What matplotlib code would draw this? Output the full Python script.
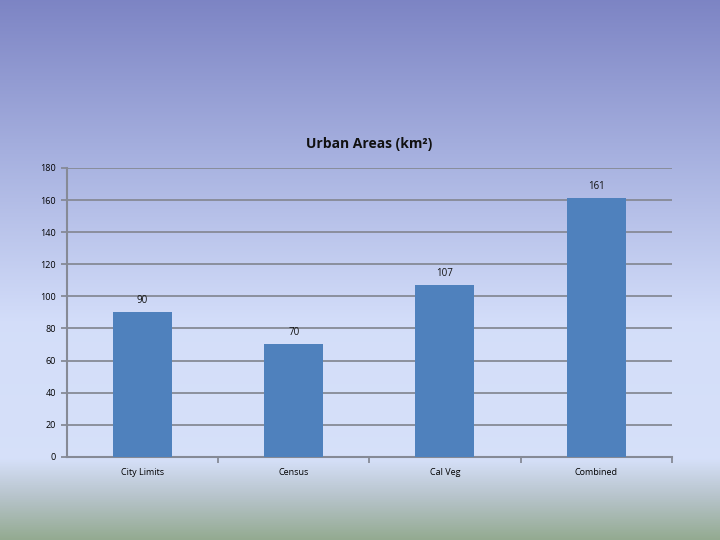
import matplotlib
matplotlib.use("Agg")
import matplotlib.pyplot as plt
import numpy as np
from matplotlib.colors import LinearSegmentedColormap

categories = ["City Limits", "Census", "Cal Veg", "Combined"]
areas = [90, 70, 107, 161]
y_ticks = [0, 20, 40, 60, 80, 100, 120, 140, 160, 180]

plt.rcParams['font.family'] = ['Open Sans', 'DejaVu Sans']

fig = plt.figure(figsize=(7.2, 5.4), dpi=100)

# slide background gradient (top -> bottom)
bg = fig.add_axes([0, 0, 1, 1], zorder=-10)
stops = [(0.0, (0.49, 0.52, 0.77)),
         (0.30, (0.66, 0.70, 0.88)),
         (0.60, (0.83, 0.87, 0.98)),
         (0.85, (0.84, 0.88, 0.98)),
         (0.92, (0.72, 0.77, 0.80)),
         (1.0, (0.58, 0.67, 0.57))]
cmap = LinearSegmentedColormap.from_list("slide", stops)
grad = np.linspace(0, 1, 256).reshape(-1, 1)
bg.imshow(grad, aspect="auto", cmap=cmap, extent=[0, 1, 0, 1], origin="upper")
bg.axis("off")

ax = fig.add_axes([0.093, 0.154, 0.840, 0.535])
ax.set_facecolor("none")
x = np.arange(len(categories))
bars = ax.bar(x, areas, width=0.39, color="#4f81bd", zorder=3)

for b, v in zip(bars, areas):
    ax.text(b.get_x() + b.get_width() / 2, v + 4, str(v), ha="center",
            va="bottom", fontsize=7, color="#111111")

ax.set_xlim(-0.5, len(categories) - 0.5)
ax.set_ylim(0, 180)
ax.set_yticks(y_ticks)
ax.set_yticklabels([str(t) for t in y_ticks], fontsize=6.5)
ax.set_xticks(x)
ax.set_xticklabels(categories, fontsize=6.5)
ax.tick_params(axis="x", length=0, pad=8)
ax.tick_params(axis="y", length=4, width=1.3, color="#868a96", pad=4)
ax.set_xticks(np.arange(len(categories)) + 0.5, minor=True)
ax.tick_params(axis="x", which="minor", length=4, width=1.3, color="#868a96")

ax.grid(axis="y", color="#868a96", linewidth=1.3, zorder=0)
ax.set_axisbelow(True)
for s in ["top", "right"]:
    ax.spines[s].set_visible(False)
for s in ["left", "bottom"]:
    ax.spines[s].set_color("#868a96")
    ax.spines[s].set_linewidth(1.5)

ax.set_title("Urban Areas (km²)", fontsize=10, fontweight="bold",
             color="#111111", pad=14)

fig.savefig("out.png", dpi=100)
